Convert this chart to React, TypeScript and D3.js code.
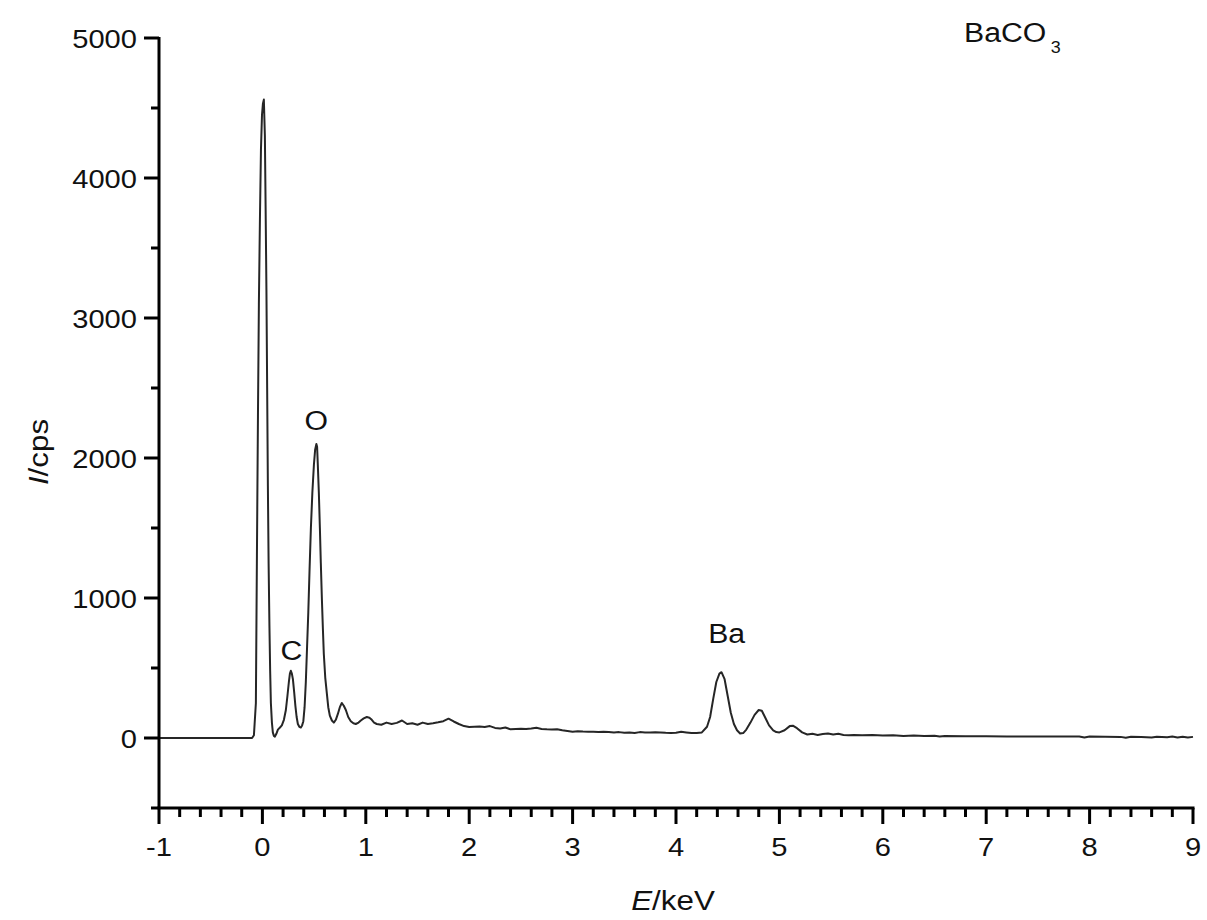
import React from "react";
import * as d3 from "d3";

// Spectrum: energy (keV) and intensity (cps)
const energy: number[] = [
  -1, -0.1, -0.082, -0.063, -0.053, -0.043, -0.034, -0.024, -0.014, -0.004, 0.005, 0.014, 0.024, 0.031, 0.039, 0.046, 0.053, 0.06, 0.068, 0.075, 0.082, 0.092, 0.101, 0.111, 0.121, 0.135, 0.15, 0.17, 0.188, 0.208, 0.227, 0.242, 0.256, 0.266, 0.275, 0.285, 0.295, 0.307, 0.319, 0.331, 0.343, 0.357, 0.372, 0.384, 0.396, 0.408, 0.42, 0.432, 0.444, 0.456, 0.469, 0.483, 0.498, 0.51, 0.522, 0.529, 0.536, 0.546, 0.556, 0.565, 0.575, 0.585, 0.594, 0.608, 0.623, 0.637, 0.652, 0.672, 0.691, 0.71, 0.729, 0.749, 0.768, 0.787, 0.807, 0.83, 0.855, 0.88, 0.903, 0.93, 0.952, 0.98, 1.01, 1.035, 1.058, 1.08, 1.106,
  1.15, 1.2, 1.25, 1.3, 1.35, 1.4, 1.45, 1.5, 1.55, 1.6, 1.65, 1.7, 1.75, 1.8, 1.85, 1.9, 1.95, 2.0, 2.05, 2.1, 2.15, 2.2, 2.25, 2.3, 2.35, 2.4, 2.45, 2.5, 2.55, 2.6, 2.65, 2.7, 2.75, 2.8, 2.85, 2.9, 2.95, 3.0, 3.05, 3.1, 3.15, 3.2, 3.25, 3.3, 3.35, 3.4, 3.45, 3.5, 3.55, 3.6, 3.65, 3.7, 3.75, 3.8, 3.85, 3.9, 3.95, 4.0, 4.05, 4.1, 4.15, 4.2, 4.25,
  4.3, 4.33, 4.36, 4.39, 4.42, 4.44, 4.47, 4.5, 4.53, 4.56, 4.59, 4.62, 4.65, 4.68, 4.72, 4.76, 4.8, 4.83, 4.86, 4.9, 4.94, 4.97, 5.0, 5.05, 5.1, 5.13, 5.17, 5.22, 5.27, 5.32, 5.37, 5.42, 5.47, 5.52, 5.57, 5.62, 5.67, 5.72, 5.8, 5.9, 6.0, 6.1, 6.2, 6.3, 6.4, 6.5, 6.55, 6.6, 6.8, 7.0, 7.2, 7.5, 7.7, 7.9, 7.95, 8.0, 8.3, 8.35, 8.4, 8.5, 8.6, 8.65, 8.75, 8.8, 8.85, 8.9, 8.95, 9.0,
];
const intensity: number[] = [
  0, 0, 20, 250, 1300, 2300, 3100, 3700, 4200, 4450, 4530, 4560, 4300, 3800, 3200, 2500, 1800, 1250, 800, 480, 250, 110, 40, 15, 10, 30, 60, 75, 90, 130, 200, 300, 400, 460, 480, 460, 420, 330, 230, 150, 100, 80, 75, 90, 120, 220, 400, 650, 900, 1200, 1500, 1750, 1950, 2060, 2100, 2080, 1950, 1750, 1500, 1250, 1000, 780, 600, 430, 320, 220, 160, 125, 110, 130, 170, 220, 250, 230, 200, 150, 120, 105, 100, 110, 125, 140, 150, 145, 130, 110, 100,
  95, 110, 100, 108, 125, 100, 105, 95, 110, 100, 105, 112, 120, 138, 118, 100, 85, 78, 80, 82, 78, 85, 72, 68, 75, 62, 65, 66, 64, 68, 73, 65, 62, 60, 63, 55, 50, 45, 48, 46, 45, 44, 42, 45, 43, 40, 42, 38, 40, 36, 42, 40, 39, 41, 40, 37, 36, 38, 45, 40, 35, 35, 40,
  80, 150, 280, 400, 460, 470, 420, 300, 180, 100, 55, 32, 35, 60, 110, 165, 200, 195, 150, 90, 55, 42, 40, 55, 85, 88, 70, 40, 25, 30, 22, 28, 32, 25, 30, 22, 20, 22, 20, 22, 18, 20, 15, 18, 14, 16, 10, 15, 13, 12, 11, 10, 11, 10, 3, 10, 8, 2, 9, 8, 4, 9, 6, 10, 4, 9, 3, 8,
];

const xMajorTicks: number[] = [-1, 0, 1, 2, 3, 4, 5, 6, 7, 8, 9];
const yMajorTicks: number[] = [0, 1000, 2000, 3000, 4000, 5000];

const peakLabels: string[] = ["C", "O", "Ba"];
const peakLabelE: number[] = [0.28, 0.52, 4.49];
const peakLabelI: number[] = [560, 2200, 680];

const W = 1207;
const H = 920;

export default function App() {
  const x = d3.scaleLinear().domain([-1, 9]).range([159, 1193]);
  const y = d3.scaleLinear().domain([-500, 5000]).range([808, 38]);

  const pts: [number, number][] = energy.map((e, i) => [e, intensity[i]]);
  const line = d3
    .line<[number, number]>()
    .x((d) => x(d[0]))
    .y((d) => y(d[1]));

  const xMinor = d3.range(-1, 9.0001, 0.2).filter((v) => Math.abs(v - Math.round(v)) > 1e-6);
  const yMinor = d3.range(-500, 5000, 1000);

  const font = "'Liberation Sans', Arial, sans-serif";
  const fs = 26;
  const sx = 1.12;
  const sw = 3;

  return (
    <svg
      width={W}
      height={H}
      style={{ position: "absolute", left: 0, top: 0, background: "#fff" }}
      fontFamily={font}
    >
      <rect x={0} y={0} width={W} height={H} fill="#fff" />
      {/* data line */}
      <path d={line(pts) || ""} fill="none" stroke="#262626" strokeWidth={2} strokeLinejoin="round" />

      {/* axes */}
      <line x1={x(-1)} x2={x(-1)} y1={y(5000) - 1} y2={y(-500)} stroke="#000" strokeWidth={sw} />
      <line x1={x(-1) - 1.5} x2={x(9) + 1.5} y1={y(-500)} y2={y(-500)} stroke="#000" strokeWidth={sw} />

      {yMajorTicks.map((t) => (
        <g key={"ym" + t}>
          <line x1={x(-1) - 15} x2={x(-1)} y1={y(t)} y2={y(t)} stroke="#000" strokeWidth={sw} />
          <text
            transform={`translate(${x(-1) - 22},${y(t) + 9.5}) scale(${sx},1)`}
            textAnchor="end"
            fontSize={fs}
            fill="#111"
          >
            {t}
          </text>
        </g>
      ))}
      {yMinor.map((t) => (
        <line key={"yn" + t} x1={x(-1) - 8} x2={x(-1)} y1={y(t)} y2={y(t)} stroke="#000" strokeWidth={sw} />
      ))}

      {xMajorTicks.map((t) => (
        <g key={"xm" + t}>
          <line x1={x(t)} x2={x(t)} y1={y(-500)} y2={y(-500) + 16} stroke="#000" strokeWidth={sw} />
          <text
            transform={`translate(${x(t)},${y(-500) + 48}) scale(${sx},1)`}
            textAnchor="middle"
            fontSize={fs}
            fill="#111"
          >
            {t}
          </text>
        </g>
      ))}
      {xMinor.map((t, i) => (
        <line key={"xn" + i} x1={x(t)} x2={x(t)} y1={y(-500)} y2={y(-500) + 9} stroke="#000" strokeWidth={sw} />
      ))}

      {/* axis titles */}
      <text transform={`translate(673,910) scale(${sx},1)`} textAnchor="middle" fontSize={28} fill="#111">
        <tspan fontStyle="italic">E</tspan>/keV
      </text>
      <text transform={`translate(48,452) rotate(-90) scale(${sx},1)`} textAnchor="middle" fontSize={28} fill="#111">
        <tspan fontStyle="italic">I</tspan>/cps
      </text>

      {/* title */}
      <text transform={`translate(964,42) scale(${sx},1)`} fontSize={27} fill="#111">
        BaCO<tspan fontSize={16} dx={4} dy={11}>3</tspan>
      </text>

      {/* peak labels */}
      {peakLabels.map((l, i) => (
        <text
          key={l}
          transform={`translate(${x(peakLabelE[i])},${y(peakLabelI[i])}) scale(${sx},1)`}
          textAnchor="middle"
          fontSize={27}
          fill="#111"
        >
          {l}
        </text>
      ))}
    </svg>
  );
}
